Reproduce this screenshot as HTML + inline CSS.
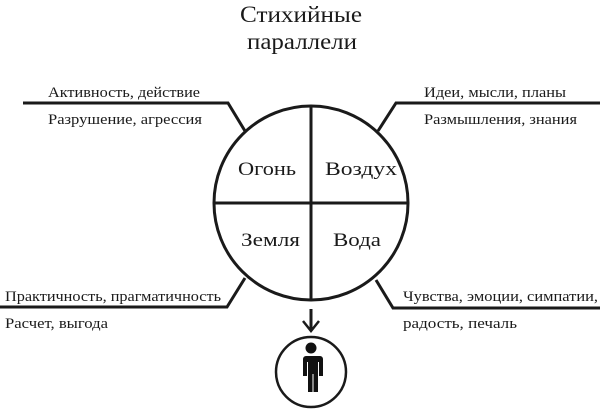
<!DOCTYPE html>
<html><head><meta charset="utf-8"><style>
html,body{margin:0;padding:0;background:#fff;}
svg{display:block}
text{font-family:"Liberation Serif","DejaVu Serif",serif;fill:#1a1a1a;}
</style></head><body>
<svg width="600" height="410" viewBox="0 0 600 410" xmlns="http://www.w3.org/2000/svg">
<g stroke="#1a1a1a" stroke-width="3" fill="none">
<circle cx="311" cy="203" r="97"/>
<line x1="214" y1="203" x2="408" y2="203"/>
<line x1="311" y1="106" x2="311" y2="300"/>
<polyline points="23,103 228,103 245,131"/>
<polyline points="600,103 396,103 378,131"/>
<polyline points="0,307 227,307 245,278"/>
<polyline points="600,308 393,308 376,280"/>
<line x1="311" y1="309" x2="311" y2="330"/>
<polyline points="303,321 311,331 319,321" stroke-width="2.5"/>
<circle cx="311" cy="372" r="35" stroke-width="2.5"/>
</g>
<g fill="#111">
<circle cx="311" cy="348" r="5.5"/>
<path d="M302,356 h18 a3,3 0 0 1 3,3 v17 h-4 v-14 h-1 v30 h-4.5 v-18 h-1 v18 h-4.5 v-30 h-1 v14 h-4 v-17 a3,3 0 0 1 3,-3z"/>
</g>
<text x="240" y="22" font-size="23" textLength="122" lengthAdjust="spacingAndGlyphs">Стихийные</text>
<text x="247" y="49" font-size="23" textLength="110" lengthAdjust="spacingAndGlyphs">параллели</text>
<text x="48" y="97" font-size="15" textLength="152" lengthAdjust="spacingAndGlyphs">Активность, действие</text>
<text x="48" y="124" font-size="15" textLength="154" lengthAdjust="spacingAndGlyphs">Разрушение, агрессия</text>
<text x="424" y="97" font-size="15" textLength="142" lengthAdjust="spacingAndGlyphs">Идеи, мысли, планы</text>
<text x="424" y="124" font-size="15" textLength="153" lengthAdjust="spacingAndGlyphs">Размышления, знания</text>
<text x="5" y="301" font-size="15" textLength="216" lengthAdjust="spacingAndGlyphs">Практичность, прагматичность</text>
<text x="5" y="328" font-size="15" textLength="103" lengthAdjust="spacingAndGlyphs">Расчет, выгода</text>
<text x="403" y="301" font-size="15" textLength="195" lengthAdjust="spacingAndGlyphs">Чувства, эмоции, симпатии,</text>
<text x="403" y="328" font-size="15" textLength="114" lengthAdjust="spacingAndGlyphs">радость, печаль</text>
<text x="238" y="175" font-size="19" textLength="58" lengthAdjust="spacingAndGlyphs">Огонь</text>
<text x="325" y="175" font-size="19" textLength="72" lengthAdjust="spacingAndGlyphs">Воздух</text>
<text x="241" y="246" font-size="19" textLength="59" lengthAdjust="spacingAndGlyphs">Земля</text>
<text x="333" y="246" font-size="19" textLength="48" lengthAdjust="spacingAndGlyphs">Вода</text>
</svg>
</body></html>
